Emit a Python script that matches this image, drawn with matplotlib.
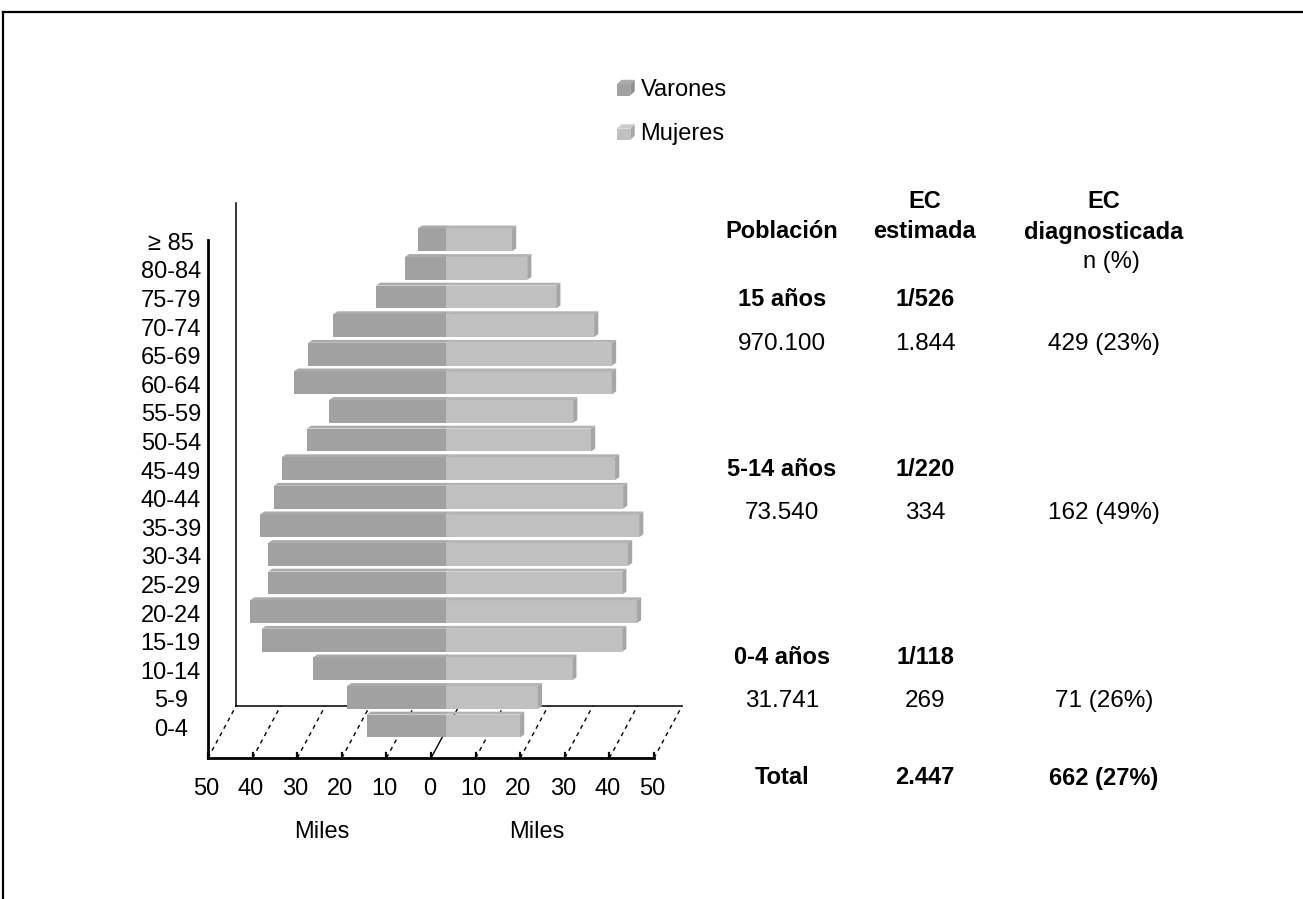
import matplotlib
matplotlib.use("Agg")
import matplotlib.pyplot as plt
from matplotlib.patches import Polygon, Rectangle, Patch
from matplotlib.legend_handler import HandlerPatch

plt.rcParams["font.family"] = ["Liberation Sans", "DejaVu Sans"]

# population pyramid (thousands)
age_groups = ["0-4", "5-9", "10-14", "15-19", "20-24", "25-29", "30-34", "35-39",
              "40-44", "45-49", "50-54", "55-59", "60-64", "65-69", "70-74",
              "75-79", "80-84", "≥ 85"]
varones = [17.8, 22.2, 29.8, 41.3, 43.9, 39.9, 39.9, 41.7, 38.6, 36.8, 31.2,
           26.2, 34.1, 30.9, 25.3, 15.7, 9.2, 6.3]
mujeres = [16.6, 20.6, 28.3, 39.5, 42.8, 39.5, 40.8, 43.3, 39.7, 37.9, 32.5,
           28.5, 37.2, 37.2, 33.2, 24.7, 18.2, 14.8]
tick_values = [-50, -40, -30, -20, -10, 0, 10, 20, 30, 40, 50]
tick_labels = ["50", "40", "30", "20", "10", "0", "10", "20", "30", "40", "50"]

# side table
header_top = ["", "EC", "EC"]
header = ["Población", "estimada", "diagnosticada"]
grupos = ["15 años", "5-14 años", "0-4 años"]
riesgo = ["1/526", "1/220", "1/118"]
poblacion = ["970.100", "73.540", "31.741"]
ec_estimada = ["1.844", "334", "269"]
ec_diagnosticada = ["429 (23%)", "162 (49%)", "71 (26%)"]
total = ["Total", "2.447", "662 (27%)"]

W, H = 1303, 899
FS = 17
C_M_FRONT, C_M_TOP = "#a1a1a1", "#aaaaaa"
C_F_FRONT, C_F_TOP, C_F_SIDE = "#c0c0c0", "#b3b3b3", "#a6a6a6"

BAR_H = 0.8
TOP_DX, TOP_DY = 0.95, 0.1          # bevel of each bar
FRONT_DX, FLOOR_Y = -3.36, -1.12    # front edge of the floor
DEPTH_X, DEPTH_Y = 6.28, 1.82       # floor depth


def px(x, y):
    return x / W, 1 - y / H


fig = plt.figure(figsize=(W / 100, H / 100), dpi=100)
ax = fig.add_axes([223 / W, 1 - 768.9 / H, 446 / W, 572 / H])
ax.set_xlim(-50, 50)
ax.set_ylim(-1.5, 18.5)
ax.axis("off")

# floor, walls and depth lines
back_x0 = -50 + FRONT_DX + DEPTH_X
back_y = FLOOR_Y + DEPTH_Y
ax.plot([back_x0, back_x0], [back_y, 18.29], color="black", lw=1.1, clip_on=False, zorder=1)
ax.plot([back_x0, 50 + FRONT_DX + DEPTH_X], [back_y, back_y], color="black", lw=1.1,
        clip_on=False, zorder=1)
for t in tick_values:
    x0 = t + FRONT_DX
    ax.plot([x0, x0 + DEPTH_X], [FLOOR_Y, back_y], color="black", lw=1,
            ls="-" if t == 0 else (0, (3, 3)), clip_on=False, zorder=1)
    ax.plot([x0, x0], [FLOOR_Y, FLOOR_Y + 0.18], color="black", lw=1.6, clip_on=False, zorder=4)
ax.plot([-50 + FRONT_DX, -50 + FRONT_DX], [FLOOR_Y, 16.99], color="black", lw=2,
        clip_on=False, zorder=4, solid_capstyle="projecting")
ax.plot([-50 + FRONT_DX, 50 + FRONT_DX], [FLOOR_Y, FLOOR_Y], color="black", lw=2,
        clip_on=False, zorder=4, solid_capstyle="projecting")

for t, lab in zip(tick_values, tick_labels):
    ax.text(t + FRONT_DX - 0.4, -2.22, lab, ha="center", va="center", fontsize=FS)
ax.text(-24.5 + FRONT_DX, -3.72, "Miles", ha="center", va="center", fontsize=FS)
ax.text(23.8 + FRONT_DX, -3.72, "Miles", ha="center", va="center", fontsize=FS)

# bars with a slight 3D bevel
ys = range(len(age_groups))
ax.barh(ys, [-v for v in varones], height=BAR_H, color=C_M_FRONT, zorder=3)
ax.barh(ys, mujeres, height=BAR_H, color=C_F_FRONT, zorder=3)
for y, m, f in zip(ys, varones, mujeres):
    top = y + BAR_H / 2
    bot = y - BAR_H / 2
    ax.add_patch(Polygon([(-m, top), (0, top), (TOP_DX, top + TOP_DY), (-m + TOP_DX, top + TOP_DY)],
                         closed=True, color=C_M_TOP, lw=0, zorder=3))
    ax.add_patch(Polygon([(0, top), (f, top), (f + TOP_DX, top + TOP_DY), (TOP_DX, top + TOP_DY)],
                         closed=True, color=C_F_TOP, lw=0, zorder=3))
    ax.add_patch(Polygon([(f, bot), (f, top), (f + TOP_DX, top + TOP_DY), (f + TOP_DX, bot + TOP_DY)],
                         closed=True, color=C_F_SIDE, lw=0, zorder=3))
    ax.text(-61.7, y - 0.14, age_groups[y], ha="center", va="center", fontsize=FS)


class CubeHandler(HandlerPatch):
    def create_artists(self, legend, orig_handle, xdescent, ydescent, width, height,
                       fontsize, trans):
        d = 0.28 * height
        x0, y0 = -xdescent, -ydescent
        w, h = width - d, height - d
        fc = orig_handle.get_facecolor()
        shade = tuple(c * 0.88 for c in fc[:3])
        light = tuple(min(1, c * 1.06) for c in fc[:3])
        front = Rectangle((x0, y0), w, h, facecolor=fc, lw=0)
        top = Polygon([(x0, y0 + h), (x0 + w, y0 + h), (x0 + w + d, y0 + h + d), (x0 + d, y0 + h + d)],
                      closed=True, facecolor=light, lw=0)
        side = Polygon([(x0 + w, y0), (x0 + w + d, y0 + d), (x0 + w + d, y0 + h + d), (x0 + w, y0 + h)],
                       closed=True, facecolor=shade, lw=0)
        for p in (front, top, side):
            p.set_transform(trans)
        return [front, top, side]


handles = [Patch(facecolor=C_M_FRONT, label="Varones"), Patch(facecolor=C_F_FRONT, label="Mujeres")]
fig.legend(handles=handles, loc="upper left", bbox_to_anchor=px(617, 79), frameon=False,
           fontsize=FS, borderpad=0, borderaxespad=0, handlelength=0.75, handleheight=0.65,
           handletextpad=0.25, labelspacing=0.95,
           handler_map={Patch: CubeHandler()})

# table on the right
col_x = [782, 925, 1104]
for x, s in zip(col_x, header_top):
    fig.text(*px(x, 202), s, ha="center", va="center", fontsize=FS, fontweight="bold")
for x, s in zip(col_x, header):
    fig.text(*px(x, 232), s, ha="center", va="center", fontsize=FS, fontweight="bold")
fig.text(*px(1111, 262), "n (%)", ha="center", va="center", fontsize=FS)

group_y = [299, 470, 658]
value_y = [344, 513, 701]
for i in range(len(grupos)):
    fig.text(*px(col_x[0], group_y[i]), grupos[i], ha="center", va="center", fontsize=FS,
             fontweight="bold")
    fig.text(*px(col_x[1], group_y[i]), riesgo[i], ha="center", va="center", fontsize=FS,
             fontweight="bold")
    for x, s in zip(col_x, [poblacion[i], ec_estimada[i], ec_diagnosticada[i]]):
        fig.text(*px(x, value_y[i]), s, ha="center", va="center", fontsize=FS + 0.5)
for x, s in zip(col_x, total):
    fig.text(*px(x, 778), s, ha="center", va="center", fontsize=FS, fontweight="bold")

# outer frame (top and left edges)
fig.add_artist(plt.Line2D([3 / W, 1], [1 - 12 / H, 1 - 12 / H], color="black", lw=1.6))
fig.add_artist(plt.Line2D([3 / W, 3 / W], [0, 1 - 12 / H], color="black", lw=1.6))

fig.savefig("out.png", dpi=100)
